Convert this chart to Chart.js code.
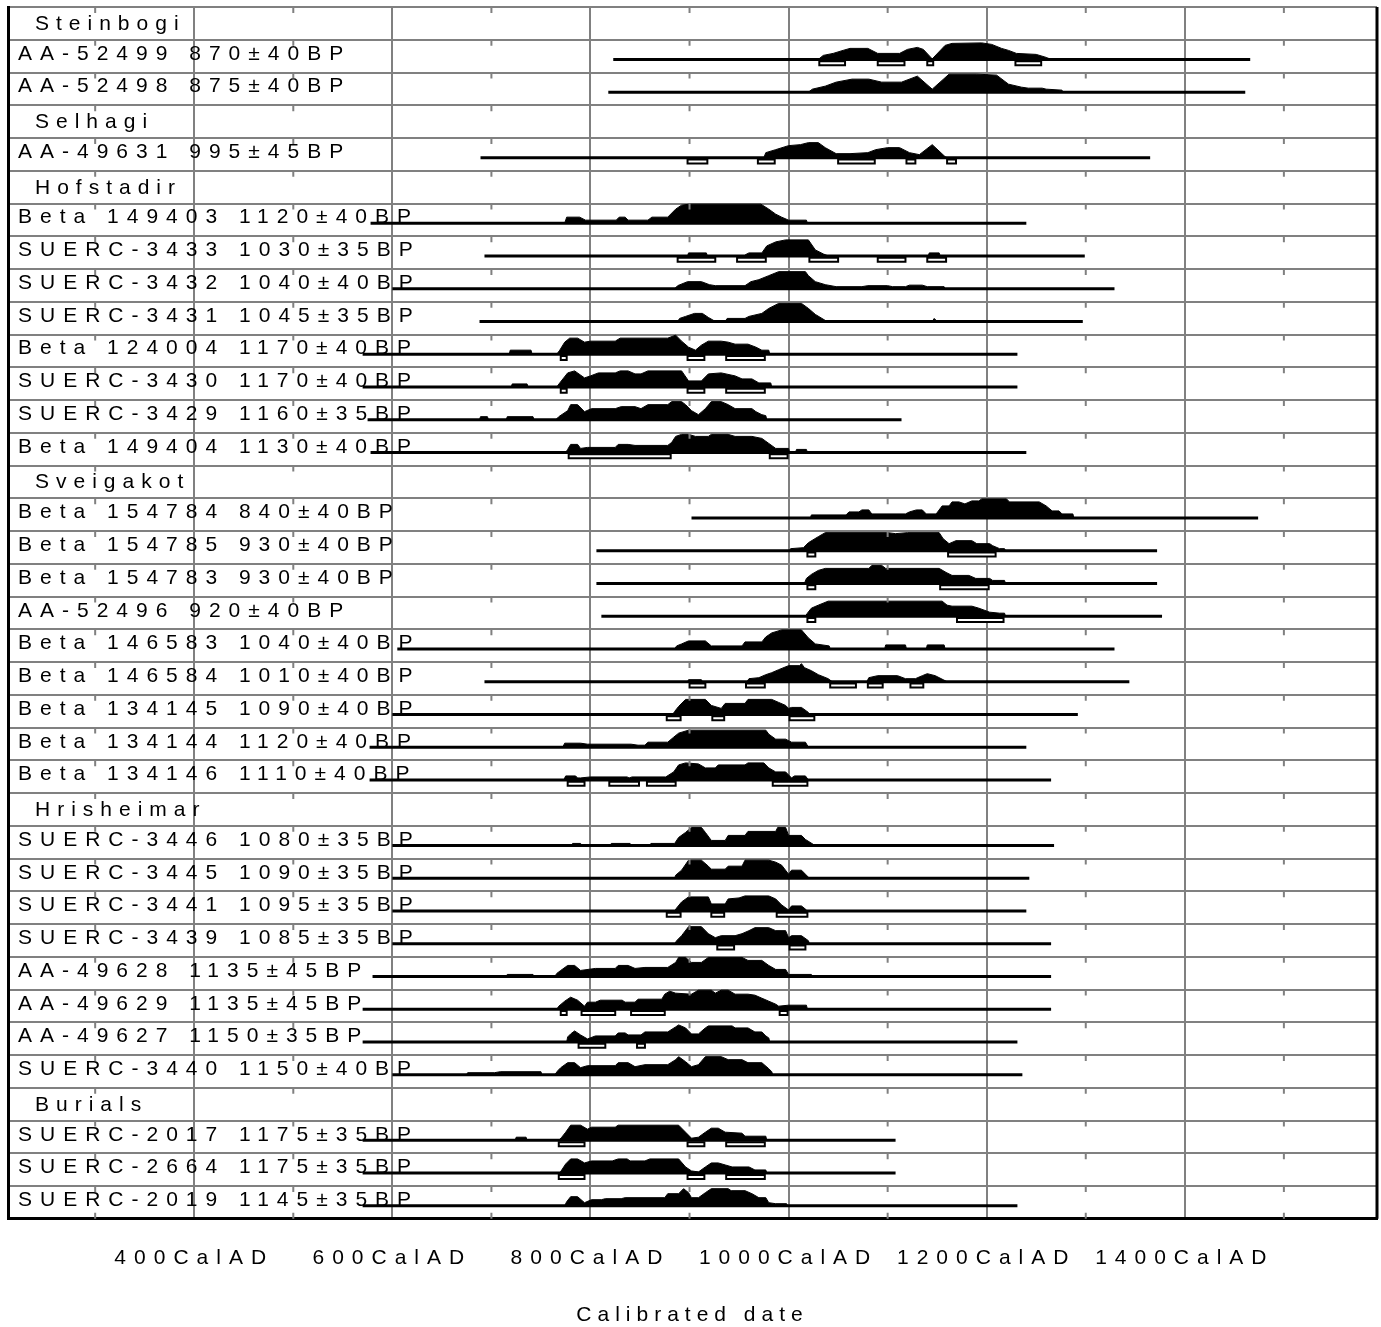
<!DOCTYPE html>
<html>
<head>
<meta charset="utf-8">
<script src="https://cdn.jsdelivr.net/npm/chart.js@4.4.1/dist/chart.umd.min.js"></script>
<style>
  html, body { margin: 0; padding: 0; background: #fff; }
  canvas { display: block; }
</style>
</head>
<body>
<canvas id="chart" width="1381" height="1327"></canvas>
<script>
const rowLabels = [
  "Steinbogi",
  "AA-52499 870±40BP",
  "AA-52498 875±40BP",
  "Selhagi",
  "AA-49631 995±45BP",
  "Hofstadir",
  "Beta 149403 1120±40BP",
  "SUERC-3433 1030±35BP",
  "SUERC-3432 1040±40BP",
  "SUERC-3431 1045±35BP",
  "Beta 124004 1170±40BP",
  "SUERC-3430 1170±40BP",
  "SUERC-3429 1160±35BP",
  "Beta 149404 1130±40BP",
  "Sveigakot",
  "Beta 154784 840±40BP",
  "Beta 154785 930±40BP",
  "Beta 154783 930±40BP",
  "AA-52496 920±40BP",
  "Beta 146583 1040±40BP",
  "Beta 146584 1010±40BP",
  "Beta 134145 1090±40BP",
  "Beta 134144 1120±40BP",
  "Beta 134146 1110±40BP",
  "Hrisheimar",
  "SUERC-3446 1080±35BP",
  "SUERC-3445 1090±35BP",
  "SUERC-3441 1095±35BP",
  "SUERC-3439 1085±35BP",
  "AA-49628 1135±45BP",
  "AA-49629 1135±45BP",
  "AA-49627 1150±35BP",
  "SUERC-3440 1150±40BP",
  "Burials",
  "SUERC-2017 1175±35BP",
  "SUERC-2664 1175±35BP",
  "SUERC-2019 1145±35BP",
];

// full calibrated span of each date (null for site headers)
const spanFrom = [null, 823, 818, null, 689, null, 578, 693, 600, 688, 570, 570, 575, 578,
  null, 902, 806, 806, 811, 605, 693, 600, 577, 577,
  null, 600, 600, 600, 600, 580, 570, 570, 600, null, 570, 570, 570];
const spanTo = [null, 1466, 1461, null, 1365, null, 1240, 1299, 1329, 1297, 1231, 1231, 1114, 1240,
  null, 1474, 1372, 1372, 1377, 1329, 1344, 1292, 1240, 1265,
  null, 1268, 1243, 1240, 1265, 1265, 1265, 1231, 1236, null, 1108, 1108, 1231];

// probability distributions [year AD, relative density]
const pAA52499 = [[1030,0],[1035,4],[1045,6],[1055,9],[1062,11],[1080,11],[1090,6],[1112,6],[1120,10],[1130,12],[1136,10],[1145,0.5],[1158,14],[1165,16],[1195,16.5],[1205,15],[1215,11],[1222,9],[1230,6],[1250,5],[1260,2],[1265,0]];
const pAA52498 = [[1020,0],[1024,3],[1037,6],[1048,10],[1064,13],[1081,13],[1094,10],[1114,10],[1130,16],[1145,3],[1162,18],[1190,18],[1210,17],[1222,8],[1235,5],[1242,4],[1256,4],[1260,3],[1276,2],[1277,0]];
const pAA49631 = [[975,0],[977,5],[987,8],[1000,12],[1012,13],[1020,15],[1030,15],[1037,10],[1048,4],[1062,4],[1080,5],[1088,8],[1100,10],[1112,10],[1122,5],[1132,3],[1145,13],[1158,1],[1160,0]];
const pB149403 = [[774,0],[776,6],[789,6],[795,3],[826,3],[829,6],[835,6],[838,3],[858,3],[862,6],[878,6],[886,14],[892,18],[900,19],[972,19],[980,14],[987,9],[993,6],[1000,3],[1018,3],[1019,0]];
const pS3433 = [[898,0],[899,3],[917,3],[918,0],[955,0],[957,1.5],[960,3],[973,3],[978,10],[987,14],[997,16],[1020,16],[1027,6],[1035,2],[1040,0],[1141,0],[1142,3],[1152,3],[1153,0]];
const pS3432 = [[885,0],[888,3],[898,7],[912,7],[920,4],[926,3],[956,3],[962,7],[970,9],[980,13],[990,17],[1017,17],[1020,13],[1027,7],[1037,4],[1048,2],[1074,2],[1080,3],[1100,3],[1105,2],[1118,2],[1122,3.5],[1135,3.5],[1140,2],[1157,2],[1158,0]];
const pS3431 = [[888,0],[890,3],[896,5],[905,8],[913,8],[919,4],[926,0],[936,0],[938,3],[956,3],[960,5],[973,8],[980,13],[990,18],[1013,18],[1020,13],[1027,7],[1037,1],[1038,0],[1145,0],[1147,3],[1150,0]];
const pB124004 = [[718,0],[719,4],[740,4],[741,0],[766,0],[769,4],[774,12],[779,16],[787,16],[794,12],[800,13],[825,13],[830,16],[878,16],[886,19],[892,13],[899,7],[906,4],[912,9],[919,13],[932,13],[939,12],[946,10],[959,10],[967,7],[973,4],[980,4],[981,0]];
const pS3430 = [[720,0],[721,3],[736,3],[737,0],[766,0],[769,4],[777,14],[784,16],[794,9],[800,11],[808,14],[825,14],[830,16],[838,16],[845,13],[851,13],[858,16],[892,16],[899,6],[912,6],[919,13],[932,14],[946,11],[953,8],[963,8],[970,4],[982,4],[983,0]];
const pS3429 = [[688,0],[689,3],[696,3],[697,0],[715,0],[716,3],[742,3],[743,0],[765,0],[768,3],[777,9],[780,15],[787,15],[794,8],[801,11],[825,11],[831,13],[845,13],[851,11],[858,15],[878,15],[882,18],[892,18],[896,15],[902,9],[909,5],[916,11],[922,18],[932,18],[939,15],[946,11],[963,11],[967,8],[973,5],[977,4],[978,0]];
const pB149404 = [[775,0],[777,3],[780,8],[787,8],[790,4],[797,5],[825,5],[828,8],[838,8],[845,7],[878,7],[882,10],[886,16],[892,18],[899,18],[906,16],[919,16],[922,18],[939,18],[946,16],[963,16],[973,14],[980,9],[987,4],[1000,4],[1001,0],[1007,0],[1008,3],[1018,3],[1019,0]];
const pB154784 = [[1022,0],[1023,3],[1058,3],[1061,6],[1071,6],[1074,8],[1081,8],[1084,4],[1118,4],[1122,6],[1129,8],[1135,8],[1139,4],[1149,4],[1155,12],[1162,12],[1165,16],[1172,16],[1178,14],[1185,17],[1192,17],[1195,19],[1220,19],[1223,16],[1253,16],[1260,12],[1266,7],[1273,7],[1276,4],[1287,4],[1288,0]];
const pB154785 = [[1001,0],[1002,2],[1015,3],[1020,8],[1030,14],[1037,18],[1100,18],[1108,17],[1120,18],[1152,18],[1156,12],[1162,7],[1169,10],[1185,10],[1190,7],[1203,7],[1206,5],[1213,2],[1218,2],[1219,0]];
const pB154783 = [[1016,0],[1018,5],[1023,9],[1030,13],[1037,15],[1081,15],[1084,18],[1094,18],[1098,15],[1152,15],[1159,11],[1165,8],[1182,8],[1189,5],[1203,5],[1206,3],[1218,3],[1219,0]];
const pAA52496 = [[1017,0],[1019,3],[1023,8],[1030,11],[1040,15],[1155,15],[1160,11],[1165,10],[1185,10],[1192,8],[1203,4],[1213,3],[1218,3],[1219,0]];
const pB146583 = [[885,0],[887,3],[892,5],[899,8],[916,8],[922,3],[953,3],[956,7],[973,7],[977,12],[983,16],[993,19],[1013,19],[1020,11],[1027,5],[1041,3],[1042,0],[1097,0],[1098,4],[1118,4],[1119,0],[1139,0],[1140,4],[1157,4],[1158,0]];
const pB146584 = [[898,0],[899,2],[912,2],[913,0],[958,0],[960,3],[970,4],[977,7],[983,9],[990,12],[1000,16],[1011,16],[1013,18],[1016,14],[1023,11],[1030,7],[1040,3],[1044,0],[1079,0],[1081,4],[1090,6],[1110,6],[1118,3],[1128,3],[1135,6],[1140,8],[1148,6],[1160,0]];
const pB134145 = [[883,0],[885,3],[889,8],[896,15],[916,15],[922,9],[932,6],[936,11],[956,11],[959,15],[983,15],[990,12],[997,9],[1000,6],[1003,7],[1013,7],[1020,2],[1021,0]];
const pB134144 = [[772,0],[774,4],[790,4],[797,3],[841,3],[848,2],[855,2],[858,5],[878,5],[884,10],[889,14],[899,17],[977,17],[980,13],[987,8],[997,8],[1003,5],[1017,5],[1020,0]];
const pB134146 = [[773,0],[775,4],[785,4],[787,2],[790,2],[800,3],[837,3],[839,2],[842,3],[876,3],[884,8],[889,15],[896,17],[909,16],[916,12],[926,12],[929,15],[956,15],[959,17],[975,17],[980,12],[987,8],[997,8],[1003,2],[1006,4],[1017,4],[1020,0]];
const pS3446 = [[780,0],[782,2],[790,2],[791,0],[820,0],[821,2],[840,2],[841,0],[860,0],[861,2],[885,2],[889,8],[896,13],[902,18],[912,18],[916,13],[922,5],[936,5],[939,10],[956,10],[959,14],[987,14],[989,18],[997,18],[1000,10],[1013,10],[1017,6],[1025,1],[1026,0]];
const pS3445 = [[885,0],[886,3],[892,8],[899,18],[912,18],[919,12],[922,9],[936,9],[939,12],[953,12],[956,18],[980,18],[987,16],[993,13],[1000,4],[1003,8],[1013,8],[1017,4],[1020,1],[1021,0]];
const pS3441 = [[885,0],[887,3],[892,9],[899,14],[919,14],[922,7],[936,7],[939,12],[950,13],[956,15],[980,15],[987,12],[993,6],[1000,1],[1003,5],[1013,5],[1018,1],[1019,0]];
const pS3439 = [[885,0],[887,3],[892,8],[899,17],[912,17],[919,10],[926,6],[932,8],[946,8],[953,10],[960,13],[966,16],[980,16],[987,13],[997,13],[1000,6],[1003,8],[1013,8],[1020,3],[1021,0]];
const pAA49628 = [[715,0],[716,2],[742,2],[743,0],[764,0],[766,3],[770,6],[777,11],[784,11],[790,6],[805,8],[825,8],[828,11],[838,11],[845,8],[855,9],[878,9],[886,14],[889,19],[896,19],[902,14],[912,14],[919,19],[953,19],[959,16],[973,16],[980,11],[987,7],[997,7],[1000,2],[1023,2],[1024,0]];
const pAA49629 = [[766,0],[768,3],[774,8],[780,12],[787,9],[794,3],[797,7],[805,7],[810,9],[832,9],[835,7],[845,7],[848,10],[872,10],[875,15],[880,18],[886,16],[902,15],[909,19],[922,19],[926,16],[932,19],[939,19],[946,15],[959,15],[966,14],[973,11],[980,8],[987,5],[990,3],[1000,4],[1018,4],[1019,0]];
const pAA49627 = [[776,0],[777,5],[780,8],[784,11],[790,7],[797,3],[805,6],[825,6],[828,9],[835,9],[838,7],[851,7],[855,10],[878,10],[886,15],[889,17],[896,14],[902,8],[909,8],[916,14],[919,16],[943,16],[946,14],[959,14],[966,10],[973,10],[977,6],[980,4],[981,0]];
const pS3440 = [[675,0],[676,2],[703,2],[709,3],[750,3],[751,0],[764,0],[767,4],[770,7],[777,12],[784,12],[790,7],[797,9],[825,9],[828,12],[838,12],[845,8],[855,10],[878,10],[886,15],[889,18],[896,13],[902,8],[909,10],[916,18],[932,18],[939,15],[953,15],[959,12],[973,12],[980,6],[983,3],[984,0]];
const pS2017 = [[724,0],[725,3],[735,3],[736,0],[768,0],[771,3],[775,8],[780,15],[790,15],[797,11],[801,13],[825,13],[828,15],[889,15],[896,8],[902,2],[909,3],[916,8],[922,12],[929,12],[936,8],[953,7],[956,4],[977,4],[978,0]];
const pS2664 = [[769,0],[771,3],[775,9],[780,14],[787,14],[794,10],[801,12],[822,12],[828,14],[837,14],[840,12],[855,12],[860,14],[889,14],[896,6],[902,2],[909,1],[916,6],[922,10],[929,10],[936,8],[943,6],[960,6],[966,3],[977,3],[978,0]];
const pS2019 = [[774,0],[776,4],[780,9],[787,9],[794,3],[801,6],[811,6],[815,7],[831,7],[835,8],[875,8],[878,12],[889,12],[894,17],[899,13],[902,8],[909,8],[916,13],[922,17],[939,17],[942,15],[956,15],[963,12],[970,8],[977,8],[980,3],[987,2],[998,2],[999,0]];

const distributions = [null, pAA52499, pAA52498, null, pAA49631, null,
  pB149403, pS3433, pS3432, pS3431, pB124004, pS3430, pS3429, pB149404,
  null, pB154784, pB154785, pB154783, pAA52496, pB146583, pB146584, pB134145, pB134144, pB134146,
  null, pS3446, pS3445, pS3441, pS3439, pAA49628, pAA49629, pAA49627, pS3440,
  null, pS2017, pS2664, pS2019];

// hollow range brackets under some dates [from, to]
const rangeBars = {
  1: [[1030,1058],[1089,1118],[1139,1147],[1228,1256]],
  4: [[897,919],[968,987],[1049,1088],[1118,1129],[1159,1170]],
  7: [[887,927],[947,978],[1020,1051],[1089,1119],[1139,1160]],
  10: [[769,777],[897,916],[936,977]],
  11: [[769,777],[897,916],[936,977]],
  13: [[777,882],[980,1000]],
  16: [[1018,1028],[1160,1210]],
  17: [[1018,1028],[1152,1203]],
  18: [[1018,1028],[1169,1218]],
  20: [[899,917],[956,977],[1041,1069],[1079,1096],[1122,1137]],
  21: [[876,892],[922,936],[1000,1027]],
  23: [[776,795],[818,850],[856,887],[983,1020]],
  27: [[876,892],[921,936],[987,1020]],
  28: [[927,946],[1000,1018]],
  30: [[769,777],[790,826],[840,876],[990,1000]],
  31: [[787,816],[846,856]],
  34: [[767,795],[897,916],[936,977]],
  35: [[767,795],[897,916],[936,977]],
};

const xTickYears = [400, 600, 800, 1000, 1200, 1400];
const minorTickYears = [300, 500, 700, 900, 1100, 1300, 1500];
const axisTitle = "Calibrated date";

// --- build datasets ---
const rowBase = i => i + 0.6;      // baseline of each row (row units)
const densityScale = 1 / 32.7;     // density unit -> row units
const barOffset = 0.12;

const datasets = [];
distributions.forEach((dist, i) => {
  if (!dist) return;
  const base = rowBase(i);
  datasets.push({
    data: dist.map(([x, v]) => ({ x, y: base - v * densityScale })),
    borderColor: "#000",
    backgroundColor: "#000",
    borderWidth: 1,
    fill: { value: base },
    order: 2,
  });
  datasets.push({
    data: [{ x: spanFrom[i], y: base }, { x: spanTo[i], y: base }],
    borderColor: "#000",
    borderWidth: 3,
    fill: false,
    order: 3,
  });
  const bars = rangeBars[i];
  if (bars) {
    const outer = [], inner = [];
    bars.forEach(([a, b]) => {
      outer.push({ x: a, y: base + barOffset }, { x: b, y: base + barOffset }, { x: b, y: null });
      inner.push({ x: a + 2, y: base + barOffset }, { x: b - 2, y: base + barOffset }, { x: b, y: null });
    });
    datasets.push({ data: outer, borderColor: "#000", borderWidth: 6, fill: false, spanGaps: false, order: 1 });
    datasets.push({ data: inner, borderColor: "#fff", borderWidth: 2, fill: false, spanGaps: false, order: 0 });
  }
});

const decor = {
  id: "decor",
  beforeDraw(chart) {
    chart.ctx.letterSpacing = "8px";
  },
  afterDatasetsDraw(chart) {
    const { ctx, chartArea, scales } = chart;
    ctx.save();
    ctx.fillStyle = "#000";
    ctx.font = '21px "Liberation Sans"';
    ctx.textAlign = "left";
    ctx.textBaseline = "alphabetic";
    rowLabels.forEach((label, i) => {
      const header = !distributions[i];
      ctx.letterSpacing = header ? "7px" : "8px";
      const x = chartArea.left + (header ? 27 : 10);
      const y = scales.y.getPixelForValue(i + (header ? 0.7 : 0.61));
      ctx.fillText(label, x, y);
    });
    ctx.restore();
  },
  afterDraw(chart) {
    const { ctx, chartArea, scales } = chart;
    ctx.save();
    // small tick marks on each row line
    ctx.strokeStyle = "#808080";
    ctx.lineWidth = 2;
    ctx.beginPath();
    minorTickYears.forEach(yr => {
      const px = scales.x.getPixelForValue(yr);
      for (let r = 0; r < rowLabels.length; r++) {
        const top = scales.y.getPixelForValue(r);
        ctx.moveTo(px, top);
        ctx.lineTo(px, top + 6);
      }
      ctx.moveTo(px, chartArea.bottom);
      ctx.lineTo(px, chartArea.bottom - 6);
    });
    ctx.stroke();
    // right frame
    ctx.strokeStyle = "#000";
    ctx.lineWidth = 3;
    ctx.beginPath();
    ctx.moveTo(chartArea.right, chartArea.top);
    ctx.lineTo(chartArea.right, chartArea.bottom);
    ctx.stroke();
    // axis title
    ctx.fillStyle = "#000";
    ctx.font = '21px "Liberation Sans"';
    ctx.letterSpacing = "6px";
    ctx.textAlign = "center";
    ctx.textBaseline = "alphabetic";
    ctx.fillText(axisTitle, (chartArea.left + chartArea.right) / 2, chartArea.bottom + 102);
    ctx.restore();
  },
};

new Chart(document.getElementById("chart"), {
  type: "line",
  data: { datasets },
  options: {
    responsive: false,
    animation: false,
    devicePixelRatio: 1,
    layout: { padding: { left: 8, top: 7, right: 4, bottom: 29 } },
    elements: { point: { radius: 0 }, line: { tension: 0 } },
    plugins: { legend: { display: false }, tooltip: { enabled: false } },
    scales: {
      x: {
        type: "linear",
        min: 212,
        max: 1594,
        afterBuildTicks: scale => { scale.ticks = xTickYears.map(v => ({ value: v })); },
        grid: { color: "#808080", lineWidth: 2, drawTicks: false },
        border: { color: "#000", width: 3 },
        ticks: {
          autoSkip: false,
          maxRotation: 0,
          padding: 27,
          color: "#000",
          font: { family: "Liberation Sans", size: 21 },
          callback: v => v + "CalAD",
        },
      },
      y: {
        type: "linear",
        reverse: true,
        min: 0,
        max: rowLabels.length,
        afterBuildTicks: scale => {
          scale.ticks = Array.from({ length: rowLabels.length + 1 }, (_, i) => ({ value: i }));
        },
        grid: { color: "#808080", lineWidth: 2, drawTicks: false },
        border: { color: "#000", width: 3 },
        ticks: { display: false },
      },
    },
  },
  plugins: [decor],
});
</script>
</body>
</html>
